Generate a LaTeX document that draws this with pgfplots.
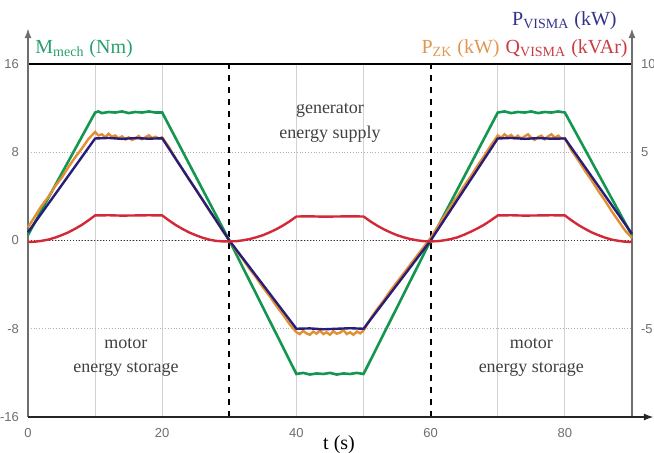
\documentclass[border=0pt]{standalone}
\usepackage{pgfplots}
\pgfplotsset{compat=1.18}
\usepackage{fontspec}
\setmainfont{Liberation Serif}
\newfontfamily\ticksans{Liberation Sans}
\usetikzlibrary{arrows.meta}

\definecolor{mgreen}{RGB}{20,150,80}
\definecolor{pblue}{RGB}{40,30,120}
\definecolor{pzk}{RGB}{228,142,52}
\definecolor{qred}{RGB}{210,40,55}
\definecolor{tgreen}{RGB}{40,160,110}
\definecolor{tblue}{RGB}{50,50,140}
\definecolor{torange}{RGB}{225,150,80}
\definecolor{tred}{RGB}{200,60,70}
\definecolor{axgray}{RGB}{110,110,110}

\pgfplotsset{
  common/.style={
    scale only axis, width=302pt, height=176.5pt,
    xmin=0, xmax=90,
    major tick length=0pt, minor tick length=0pt,
    tick label style={font=\ticksans\fontsize{6.5}{6.5}\selectfont, text=axgray},
    /pgf/number format/assume math mode=true,
    clip=false,
  },
}

\begin{document}
\begin{tikzpicture}
\useasboundingbox (-14pt,-17.5pt) rectangle (313pt,208.5pt);

% left axis: torque in Nm
\begin{axis}[common,
  ymin=-16, ymax=16,
  axis line style={draw=none},
  xtick={0,20,40,60,80},
  ytick={-16,-8,0,8,16},
  minor xtick={10,20,40,50,70,80},
  xminorgrids,
  minor grid style={gray!35, line width=0.4pt},
  ymajorgrids,
  major grid style={gray!60, densely dotted, line width=0.5pt},
  extra x ticks={30,60}, extra x tick labels={},
  extra x tick style={grid=major, major grid style={black, dashed, line width=0.9pt}},
  extra y ticks={0}, extra y tick labels={},
  extra y tick style={grid=major, major grid style={black!80, densely dotted, line width=0.8pt}},
  yticklabel style={xshift=-1pt},
  xticklabel style={yshift=-2pt},
  xlabel={t (s)},
  xlabel style={font=\fontsize{10}{10}\selectfont, at={(rel axis cs:0.515,0)}, anchor=north, yshift=-6pt},
]
\draw[black, line width=0.9pt] (rel axis cs:0,1) -- (rel axis cs:1,1);
\draw[axgray, line width=1pt, -{Latex[length=5pt,width=3.5pt]}] (rel axis cs:0,0) -- ([yshift=18pt]rel axis cs:0,1);
\draw[axgray, line width=1pt, -{Latex[length=5pt,width=3.5pt]}] (rel axis cs:1,0) -- ([yshift=18pt]rel axis cs:1,1);
\draw[black!85, line width=1.1pt, -{Latex[length=5pt,width=3.5pt]}] (rel axis cs:0,0) -- ([xshift=11pt]rel axis cs:1,0);

\addplot[mgreen, line width=1.3pt] coordinates {
  (0,0.5) (10,11.6) (10.5,11.7) (11,11.55) (12,11.65) (13,11.6) (14,11.7) (15,11.55)
  (16,11.65) (17,11.6) (18,11.7) (19,11.6) (20,11.6)
  (30,0) (40,-12.1) (41,-12.0) (42,-12.15) (43,-12.05) (44,-12.1) (45,-12.0) (46,-12.15)
  (47,-12.05) (48,-12.1) (49,-12.0) (50,-12.1)
  (60,0) (70,11.6) (71,11.7) (72,11.55) (73,11.65) (74,11.6) (75,11.7) (76,11.55)
  (77,11.65) (78,11.6) (79,11.7) (80,11.6) (90,0.45)
};

\node[font=\fontsize{9}{12.5}\selectfont, text=black!75, align=center] at (axis cs:45,10.7) {generator\\energy supply};
\node[font=\fontsize{9}{12}\selectfont, text=black!75, align=center] at (axis cs:14.6,-10.6) {motor\\energy storage};
\node[font=\fontsize{9}{12}\selectfont, text=black!75, align=center] at (axis cs:75,-10.6) {motor\\energy storage};

\node[anchor=base west, text=tgreen, font=\fontsize{10}{10}\selectfont, inner sep=0pt]
  at ([xshift=3.5pt,yshift=5.5pt]rel axis cs:0,1) {M\textsubscript{mech} (Nm)};
\node[anchor=base east, text=torange, font=\fontsize{10}{10}\selectfont, inner sep=0pt]
  at ([xshift=-66pt,yshift=5.5pt]rel axis cs:1,1) {P\textsubscript{ZK} (kW)};
\node[anchor=base east, text=tred, font=\fontsize{10}{10}\selectfont, inner sep=0pt]
  at ([xshift=-2pt,yshift=5.5pt]rel axis cs:1,1) {Q\textsubscript{VISMA} (kVAr)};
\node[anchor=base east, text=tblue, font=\fontsize{10}{10}\selectfont, inner sep=0pt]
  at ([xshift=-7.5pt,yshift=19.5pt]rel axis cs:1,1) {P\textsubscript{VISMA} (kW)};
\end{axis}

% right axis: power in kW / kVAr
\begin{axis}[common,
  ymin=-10, ymax=10,
  axis x line=none,
  axis y line*=right,
  axis line style={draw=none},
  ytick={-5,5,10},
  yticklabel style={xshift=1pt},
]
\addplot[pzk, line width=1.2pt] coordinates {
  (0,0.75) (1,1.35) (2,1.95) (3,2.45) (4,3.05) (5,3.55) (6,4.15) (7,4.70) (8,5.20) (9,5.75)
  (10,6.15) (10.5,5.95) (11,6.02) (11.5,5.85) (12,6.05) (12.5,5.88) (13,5.95) (13.5,5.78)
  (14,5.90) (14.5,5.72) (15,5.85) (15.5,5.70) (16,5.78) (16.5,5.92) (17,5.74) (17.5,5.85)
  (18,5.96) (18.5,5.80) (19,5.88) (19.5,5.78) (20,5.85)
  (21,5.30) (22,4.65) (23,4.05) (24,3.45) (25,2.90) (26,2.30) (27,1.70) (28,1.15) (29,0.55)
  (30,0.00) (31,-0.55) (32,-1.05) (33,-1.60) (34,-2.10) (35,-2.65) (36,-3.15) (37,-3.70)
  (38,-4.20) (39,-4.75) (40,-5.20) (40.5,-5.30) (41,-5.12) (41.5,-5.26) (42,-5.34)
  (42.5,-5.16) (43,-5.28) (43.5,-5.10) (44,-5.30) (44.5,-5.20) (45,-5.34) (45.5,-5.14)
  (46,-5.28) (46.5,-5.22) (47,-5.08) (47.5,-5.30) (48,-5.20) (48.5,-5.34) (49,-5.16)
  (49.5,-5.26) (50,-5.10)
  (51,-4.45) (52,-3.90) (53,-3.40) (54,-2.85) (55,-2.35) (56,-1.85) (57,-1.35) (58,-0.85)
  (59,-0.35) (60,0.15) (61,0.75) (62,1.35) (63,1.95) (64,2.50) (65,3.10) (66,3.65)
  (67,4.25) (68,4.80) (69,5.40) (70,5.95) (70.5,5.82) (71,6.02) (71.5,5.86) (72,5.98)
  (72.5,5.78) (73,5.94) (73.5,5.76) (74,5.90) (74.5,6.02) (75,5.82) (75.5,5.70) (76,5.86)
  (76.5,5.94) (77,5.74) (77.5,5.90) (78,6.02) (78.5,5.82) (79,5.94) (79.5,5.78) (80,5.80)
  (81,5.10) (82,4.55) (83,3.95) (84,3.40) (85,2.80) (86,2.25) (87,1.65) (88,1.10)
  (89,0.55) (90,0.15)
};
\addplot[pblue, line width=1.2pt] coordinates {
  (0,0.47) (10,5.78) (12,5.81) (14,5.76) (16,5.80) (18,5.77) (20,5.79)
  (30,0) (40,-5.0) (42,-4.98) (44,-5.03) (46,-5.0) (48,-4.97) (50,-5.0)
  (60,0) (70,5.78) (72,5.81) (74,5.76) (76,5.80) (78,5.77) (80,5.78) (90,0.38)
};
\addplot[qred, line width=1.2pt] coordinates {
  (0,-0.08) (1,-0.07) (2,-0.02) (3,0.05) (4,0.16) (5,0.30) (6,0.46) (7,0.66) (8,0.88)
  (9,1.14) (10,1.42) (12,1.43) (14,1.41) (16,1.42) (18,1.43) (20,1.42)
  (21,1.14) (22,0.88) (23,0.66) (24,0.46) (25,0.30) (26,0.16) (27,0.05) (28,-0.02)
  (29,-0.05) (30,-0.05)
  (31,-0.04) (32,0.01) (33,0.08) (34,0.18) (35,0.30) (36,0.46) (37,0.64) (38,0.85)
  (39,1.09) (40,1.36) (42,1.37) (44,1.35) (46,1.36) (48,1.37) (50,1.36)
  (51,1.09) (52,0.85) (53,0.64) (54,0.46) (55,0.30) (56,0.18) (57,0.08) (58,0.01)
  (59,-0.04) (60,-0.05)
  (61,-0.04) (62,0.01) (63,0.08) (64,0.18) (65,0.33) (66,0.50) (67,0.69) (68,0.90)
  (69,1.15) (70,1.42) (72,1.43) (74,1.41) (76,1.42) (78,1.43) (80,1.42)
  (81,1.14) (82,0.88) (83,0.66) (84,0.46) (85,0.30) (86,0.16) (87,0.05) (88,-0.02)
  (89,-0.07) (90,-0.09)
};
\end{axis}
\end{tikzpicture}
\end{document}
